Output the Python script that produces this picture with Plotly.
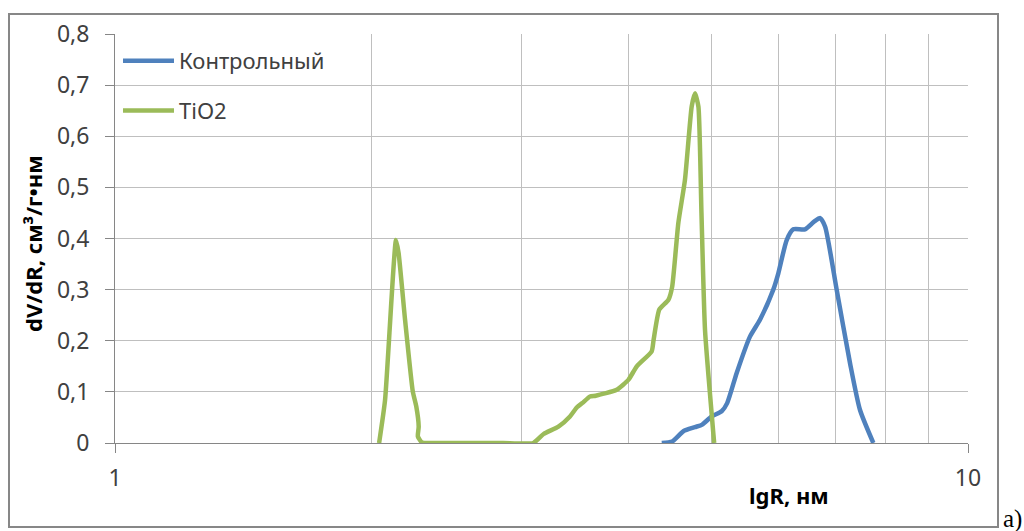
import plotly.graph_objects as go

# Data
ctrl_x = [4.375, 4.50, 4.638, 4.785, 4.88, 5.006, 5.143, 5.22, 5.356, 5.551, 5.703,
          5.912, 5.993, 6.13, 6.24, 6.44, 6.60, 6.71, 6.80, 7.015, 7.273, 7.47, 7.745]
ctrl_y = [0.0, 0.003, 0.023, 0.031, 0.036, 0.052, 0.062, 0.078, 0.137, 0.208, 0.241,
          0.300, 0.332, 0.397, 0.418, 0.418, 0.433, 0.440, 0.423, 0.300, 0.156, 0.065, 0.0]

tio2_x = [2.04, 2.073, 2.135, 2.15, 2.188, 2.234, 2.255, 2.27, 2.265, 2.29, 2.36, 2.6, 2.85,
          3.093, 3.18, 3.31, 3.415, 3.48, 3.53, 3.605, 3.66, 3.874, 4.0, 4.09, 4.257, 4.28,
          4.346, 4.454, 4.50, 4.575, 4.658, 4.743, 4.786, 4.83, 4.87, 4.917, 5.04]
tio2_y = [0.0, 0.084, 0.397, 0.372, 0.241, 0.101, 0.072, 0.032, 0.013, 0.001, 0.0, 0.0, 0.0,
          0.0, 0.0176, 0.032, 0.052, 0.070, 0.078, 0.091, 0.0925, 0.104, 0.124, 0.150, 0.179,
          0.202, 0.261, 0.280, 0.306, 0.430, 0.515, 0.658, 0.684, 0.658, 0.45, 0.221, 0.0]

series_names = ["Контрольный", "TiO2"]
y_ticks = [0, 0.1, 0.2, 0.3, 0.4, 0.5, 0.6, 0.7, 0.8]
y_ticktext = ["0", "0,1", "0,2", "0,3", "0,4", "0,5", "0,6", "0,7", "0,8"]
x_ticks = [1, 10]
x_minor = [2, 3, 4, 5, 6, 7, 8, 9]

BLUE = "#4F81BD"
GREEN = "#9BBB59"
GRID = "#BFBFBF"
AXIS = "#868686"
FONT = "Noto Sans"

fig = go.Figure()
fig.add_trace(go.Scatter(x=ctrl_x, y=ctrl_y, mode="lines", name=series_names[0],
                         legendgroup="a",
                         line=dict(color=BLUE, width=4.5, shape="spline", smoothing=0.6)))
fig.add_trace(go.Scatter(x=tio2_x, y=tio2_y, mode="lines", name=series_names[1],
                         legendgroup="b",
                         line=dict(color=GREEN, width=4.5, shape="spline", smoothing=0.5)))

L, R, T, B = 115, 56, 34, 88
W, H = 1024, 531
pw, ph = W - L - R, H - T - B

def px_x(p):
    return (p - L) / pw

def px_y(p):
    return (H - B - p) / ph

fig.update_layout(
    width=W, height=H,
    margin=dict(l=L, r=R, t=T, b=B),
    paper_bgcolor="white", plot_bgcolor="white",
    font=dict(family=FONT, size=22, color="#404040"),
    showlegend=True,
    legend=dict(x=px_x(118), y=px_y(40), xanchor="left", yanchor="top",
                bgcolor="rgba(0,0,0,0)", font=dict(size=22, color="#404040"),
                traceorder="grouped", tracegroupgap=18, itemwidth=51),
    xaxis=dict(type="log", range=[0, 1], tickmode="array", tickvals=x_ticks,
               ticktext=["1", "10"], showgrid=True, gridcolor=GRID, gridwidth=1,
               minor=dict(tickmode="array", tickvals=x_minor, showgrid=True,
                          gridcolor=GRID, gridwidth=1, ticks=""),
               showline=True, linecolor=AXIS, linewidth=1,
               ticks="outside", ticklen=9, tickcolor=AXIS,
               tickfont=dict(size=23, color="#404040"), ticklabelstandoff=5,
               zeroline=False),
    yaxis=dict(range=[0, 0.8], tickmode="array", tickvals=y_ticks, ticktext=y_ticktext,
               showgrid=True, gridcolor=GRID, gridwidth=1,
               showline=True, linecolor=AXIS, linewidth=1,
               ticks="outside", ticklen=9, tickcolor=AXIS,
               tickfont=dict(size=23, color="#404040"), ticklabelstandoff=11,
               zeroline=False),
)

# outer frame of the chart
fig.add_shape(type="rect", xref="paper", yref="paper",
              x0=px_x(9), x1=px_x(998), y0=px_y(527), y1=px_y(14),
              line=dict(color="#878787", width=2), fillcolor="rgba(0,0,0,0)", layer="below")

# axis titles
fig.add_annotation(text="<b>lgR, нм</b>", xref="paper", yref="paper",
                   x=px_x(789), y=px_y(495), xanchor="center", yanchor="middle",
                   showarrow=False, font=dict(family=FONT, size=22, color="black"))
fig.add_annotation(text="<b>dV/dR, см³/г•нм</b>", xref="paper", yref="paper",
                   x=px_x(33), y=px_y(244), xanchor="center", yanchor="middle",
                   showarrow=False, textangle=-90,
                   font=dict(family=FONT, size=22, color="black"))
fig.add_annotation(text="а)", xref="paper", yref="paper",
                   x=px_x(1012), y=px_y(519), xanchor="center", yanchor="middle",
                   showarrow=False,
                   font=dict(family="Liberation Serif", size=25, color="black"))

fig.write_html("out.html")
